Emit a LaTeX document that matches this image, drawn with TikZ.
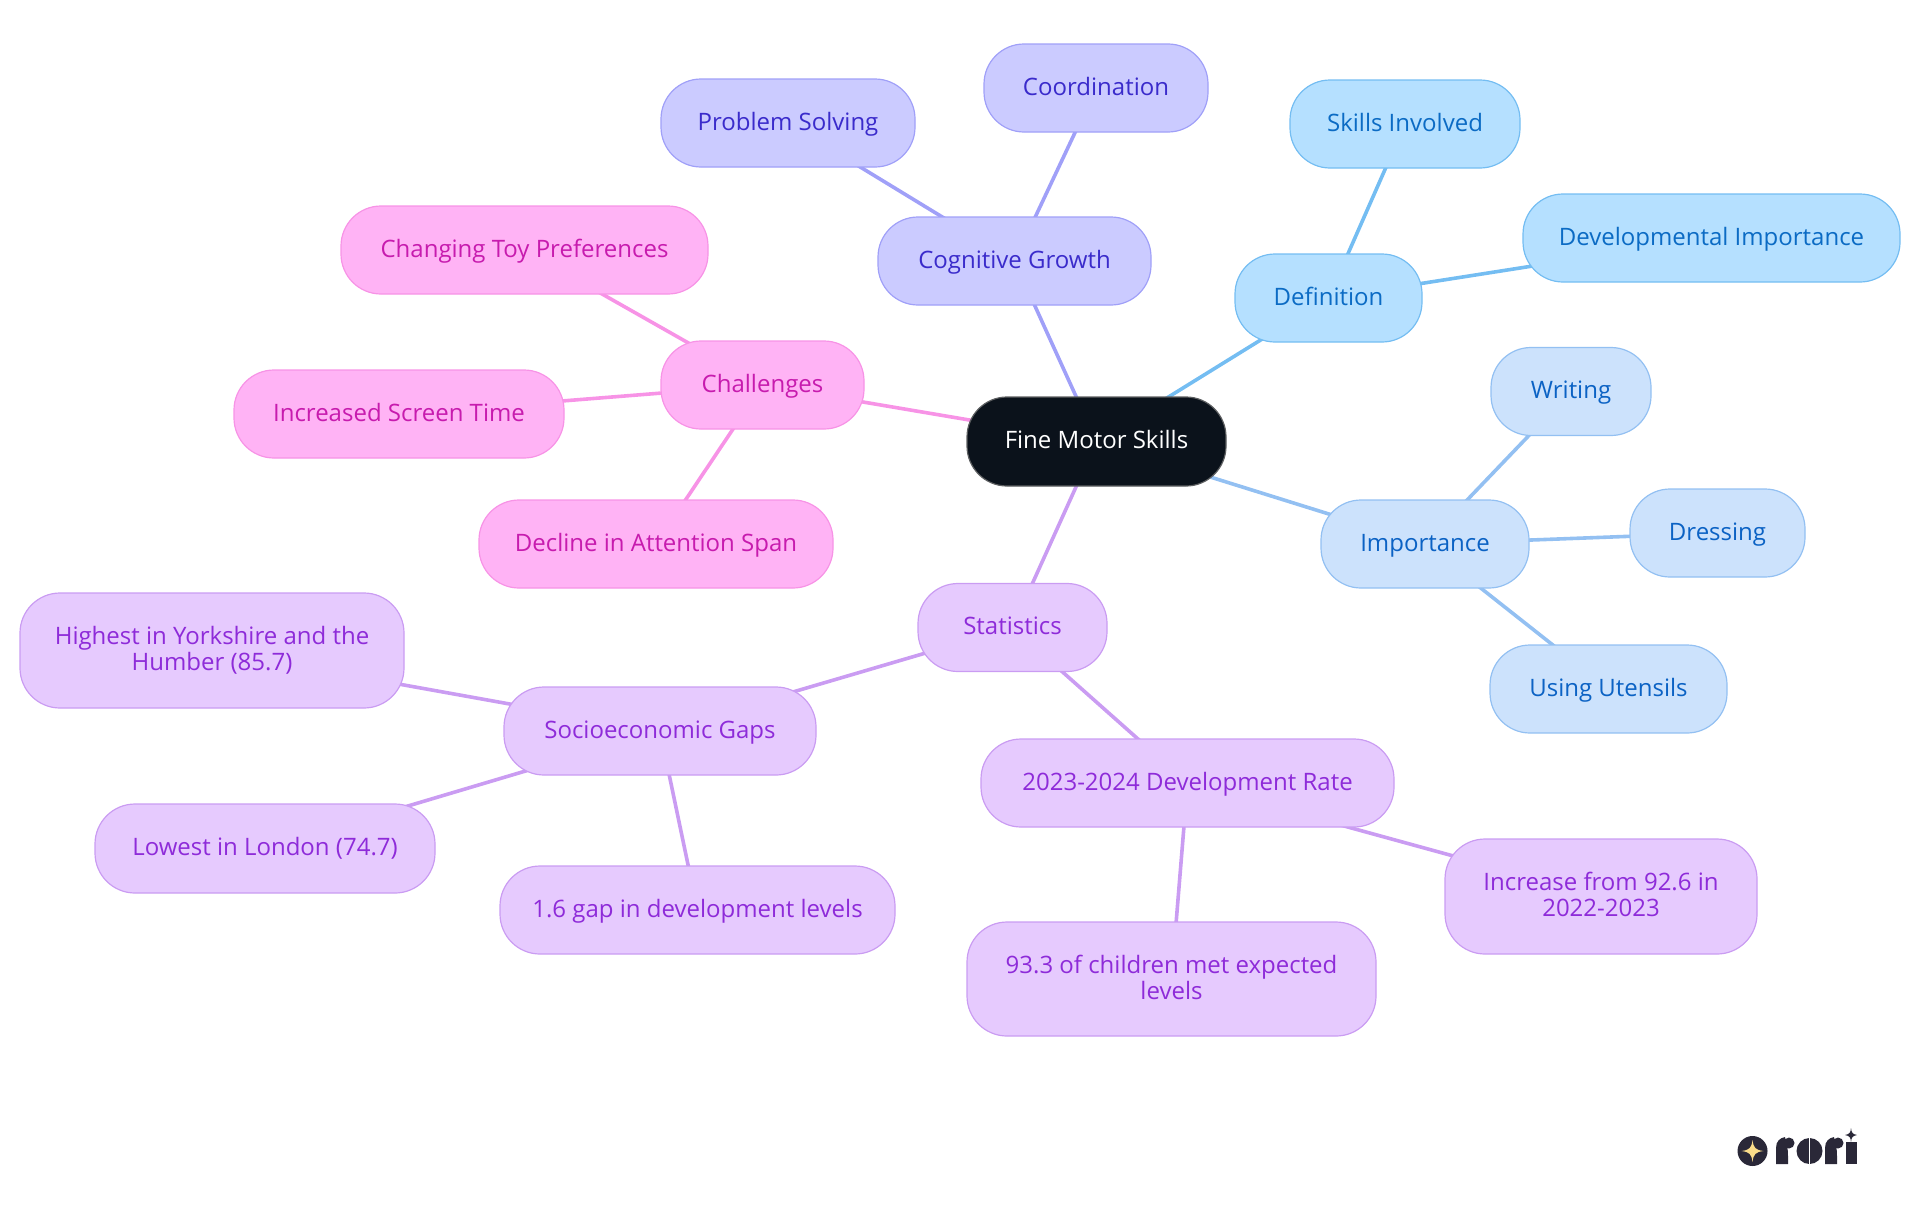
\documentclass[tikz,border=0pt]{standalone}
\usepackage{fontspec}
\setmainfont{Open Sans}
\usetikzlibrary{backgrounds}
\definecolor{vFill}{HTML}{CBCBFF}\definecolor{vLine}{HTML}{A0A0F8}\definecolor{vText}{HTML}{3A2BCB}
\definecolor{bFill}{HTML}{B5E0FF}\definecolor{bLine}{HTML}{74BDF2}\definecolor{bText}{HTML}{0B6BC4}
\definecolor{cFill}{HTML}{CCE2FC}\definecolor{cLine}{HTML}{93C0F2}\definecolor{cText}{HTML}{0B62C4}
\definecolor{pFill}{HTML}{FFB3F5}\definecolor{pLine}{HTML}{F793E6}\definecolor{pText}{HTML}{C71BAE}
\definecolor{lFill}{HTML}{E6CAFE}\definecolor{lLine}{HTML}{CA9CF2}\definecolor{lText}{HTML}{8E2BD9}
\definecolor{rootFill}{HTML}{0B121B}\definecolor{logoInk}{HTML}{2A2838}\definecolor{logoStar}{HTML}{FBDD8A}
\tikzset{
  box/.style={rectangle,rounded corners=20pt,inner sep=0pt,line width=0.6pt,align=center,text height=10.4pt,text depth=3pt,font=\fontsize{12}{13}\selectfont},
  twoline/.style={text height=23.4pt,text depth=3pt},
  vbox/.style={box,fill=vFill,draw=vLine,text=vText},
  bbox/.style={box,fill=bFill,draw=bLine,text=bText},
  cbox/.style={box,fill=cFill,draw=cLine,text=cText},
  pbox/.style={box,fill=pFill,draw=pLine,text=pText},
  lbox/.style={box,fill=lFill,draw=lLine,text=lText},
  rootbox/.style={box,fill=rootFill,draw=gray!70!rootFill,text=white},
  link/.style={line width=1.8pt},
  sz/.style 2 args={minimum width=#1*0.5pt,minimum height=#2*0.5pt},
}
\begin{document}
\begin{tikzpicture}[x=0.5pt,y=-0.5pt]
\useasboundingbox (0,0) rectangle (1920,1215);
\node[rootbox,sz={259}{89}] (root) at (1096.5,441.5) {Fine Motor Skills};
\node[vbox,sz={273}{88}] (cog) at (1014.5,261) {Cognitive Growth};
\node[vbox,sz={254}{88}] (prob) at (788,123) {Problem Solving};
\node[vbox,sz={224}{88}] (coord) at (1096,88) {Coordination};
\node[bbox,sz={187}{88}] (defn) at (1328.5,298) {Definition};
\node[bbox,sz={230}{88}] (skills) at (1405,124) {Skills Involved};
\node[bbox,sz={377}{88}] (devimp) at (1711.5,238) {Developmental Importance};
\node[cbox,sz={208}{88}] (imp) at (1425,544) {Importance};
\node[cbox,sz={160}{88}] (writing) at (1571,391.5) {Writing};
\node[cbox,sz={175}{88}] (dress) at (1717.5,533) {Dressing};
\node[cbox,sz={237}{88}] (uten) at (1608.5,689) {Using Utensils};
\node[pbox,sz={203}{88}] (chal) at (762.5,385) {Challenges};
\node[pbox,sz={367}{88}] (toy) at (524.5,250) {Changing Toy Preferences};
\node[pbox,sz={330}{88}] (screen) at (399,414) {Increased Screen Time};
\node[pbox,sz={354}{88}] (attn) at (656,544) {Decline in Attention Span};
\node[lbox,sz={189}{88}] (stats) at (1012.5,627.5) {Statistics};
\node[lbox,sz={312}{88}] (socio) at (660,731) {Socioeconomic Gaps};
\node[lbox,twoline,sz={384}{115}] (high) at (212,650.5) {Highest in Yorkshire and the\\Humber (85.7)};
\node[lbox,sz={340}{89}] (low) at (265,848.5) {Lowest in London (74.7)};
\node[lbox,sz={395}{88}] (gap) at (697.5,910) {1.6 gap in development levels};
\node[lbox,sz={413}{88}] (rate) at (1187.5,783) {2023-2024 Development Rate};
\node[lbox,twoline,sz={312}{115}] (incr) at (1601,896.5) {Increase from 92.6 in\\2022-2023};
\node[lbox,twoline,sz={409}{114}] (met) at (1171.5,979) {93.3 of children met expected\\levels};
\begin{pgfonlayer}{background}
\draw[link,vLine] (root.center)--(cog.center) (cog.center)--(prob.center) (cog.center)--(coord.center);
\draw[link,bLine] (root.center)--(defn.center) (defn.center)--(skills.center) (defn.center)--(devimp.center);
\draw[link,cLine] (root.center)--(imp.center) (imp.center)--(writing.center) (imp.center)--(dress.center) (imp.center)--(uten.center);
\draw[link,pLine] (root.center)--(chal.center) (chal.center)--(toy.center) (chal.center)--(screen.center) (chal.center)--(attn.center);
\draw[link,lLine] (root.center)--(stats.center) (stats.center)--(socio.center) (stats.center)--(rate.center) (socio.center)--(high.center) (socio.center)--(low.center) (socio.center)--(gap.center) (rate.center)--(incr.center) (rate.center)--(met.center);
\end{pgfonlayer}
% logo
\fill[logoInk] (1752.5,1151) circle (15);
\fill[logoStar] (1752.5,1140) .. controls (1753.5,1148) and (1755.5,1150) .. (1763.5,1151) .. controls (1755.5,1152) and (1753.5,1154) .. (1752.5,1162) .. controls (1751.5,1154) and (1749.5,1152) .. (1741.5,1151) .. controls (1749.5,1150) and (1751.5,1148) .. (1752.5,1140) -- cycle;
\fill[logoInk] (1776,1164) -- (1776,1148) .. controls (1776,1141) and (1780,1138) .. (1785,1137) -- (1787,1146) .. controls (1788,1150) and (1788,1152) .. (1788,1164) -- cycle;
\fill[logoInk] (1789,1143) circle (5.5);
\fill[logoInk] (1809.5,1151) circle (13);
\fill[white] (1808.7,1137) rectangle (1810.3,1165);
\fill[logoInk] (1825,1164) -- (1825,1148) .. controls (1825,1141) and (1829,1138) .. (1834,1137) -- (1836,1146) .. controls (1837,1150) and (1837,1152) .. (1837,1164) -- cycle;
\fill[logoInk] (1838,1143) circle (5.5);
\fill[logoInk] (1846,1142) -- (1857,1142) -- (1857,1164) -- (1846,1164) -- cycle;
\fill[logoInk] (1851,1128) .. controls (1851.5,1133) and (1852.5,1134) .. (1857,1135) .. controls (1852.5,1136) and (1851.5,1137) .. (1851,1142) .. controls (1850.5,1137) and (1849.5,1136) .. (1845,1135) .. controls (1849.5,1134) and (1850.5,1133) .. (1851,1128) -- cycle;
\end{tikzpicture}
\end{document}
